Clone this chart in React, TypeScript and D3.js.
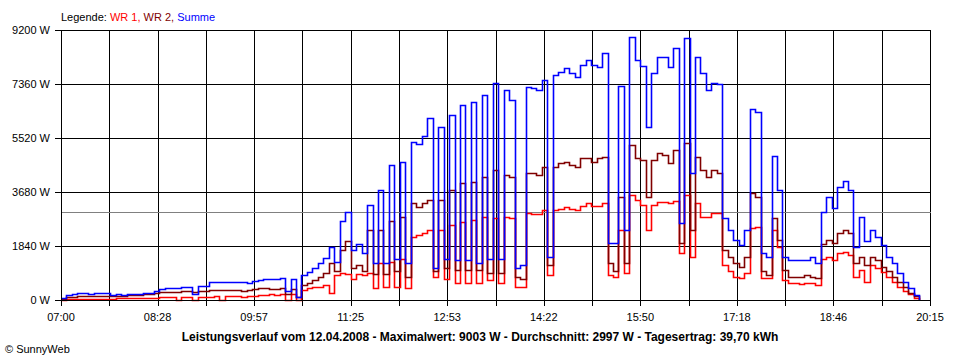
import React from "react";
import * as d3 from "d3";

// time axis: 07:00 .. 20:15, samples every 5 minutes
const START_MIN = 420;
const END_MIN = 1215;
const STEP_MIN = 5;

const wr1 = [
  10, 30, 40, 40, 50, 40, 50, 50, 50, 50, 60, 60, 60, 70, 70, 70, 80, 80, 90, 90,
  90, 0, 100, 100, 0, 110, 110, 110, 120, 0, 120, 120, 120, 110, 120, 150, 170, 180, 190, 180,
  200, 0, 190, 0, 340, 400, 440, 440, 510, 240, 850, 920, 900, 700, 900, 850, 920, 400, 1260, 440,
  1300, 440, 1400, 400, 2150, 2200, 2300, 2385, 785, 2385, 700, 2550, 580, 2660, 580, 2730, 580, 2830, 680, 2800,
  580, 2830, 2800, 440, 450, 2960, 2930, 2930, 3070, 850, 3070, 3100, 3170, 3100, 3070, 3200, 3300, 3200, 3200, 3300,
  850, 785, 2380, 920, 3580, 3400, 3240, 2380, 3240, 3340, 3340, 3300, 3370, 1600, 3580, 1470, 3300, 2830, 2830, 2960,
  2960, 1200, 1000, 785, 750, 920, 2450, 2500, 750, 750, 2380, 1800, 680, 580, 580, 560, 580, 580, 510, 1400,
  1470, 1360, 1600, 1640, 1530, 785, 1020, 600, 1190, 1090, 950, 800, 610, 450, 300, 200, 80, 0,
];

const wr2 = [
  30, 100, 110, 120, 140, 130, 140, 140, 150, 150, 140, 150, 160, 170, 180, 200, 220, 230, 260, 270,
  270, 280, 290, 290, 270, 290, 300, 330, 340, 340, 330, 330, 330, 320, 330, 380, 400, 400, 390, 380,
  400, 200, 380, 100, 520, 580, 680, 785, 920, 1260, 1000, 1700, 2000, 1100, 1200, 1000, 2385, 900, 2385, 900,
  2700, 1000, 2830, 785, 3300, 3170, 3300, 3400, 1000, 3400, 1100, 3750, 1020, 3980, 1020, 4020, 1020, 4190, 920, 4430,
  920, 4260, 4190, 785, 700, 4330, 4330, 4260, 4530, 1200, 4530, 4660, 4700, 4600, 4530, 4840, 4840, 4700, 4840, 4870,
  1260, 1000, 3510, 1260, 5280, 4840, 4770, 3500, 4770, 5000, 4950, 4660, 5110, 1940, 5350, 2385, 4870, 4430, 4190, 4430,
  4330, 1700, 1470, 1260, 1130, 1470, 3640, 3500, 1000, 850, 2790, 2040, 1020, 785, 785, 800, 850, 800, 740, 1900,
  2040, 1940, 2280, 2385, 2280, 1260, 1470, 1200, 1470, 1360, 1130, 1000, 785, 600, 430, 230, 120, 0,
];

const summe = [
  60, 170, 200, 230, 240, 220, 250, 240, 230, 180, 200, 160, 220, 190, 200, 230, 230, 300, 380, 400,
  400, 420, 430, 430, 200, 480, 490, 610, 620, 620, 600, 620, 610, 600, 590, 640, 690, 720, 720, 700,
  750, 300, 700, 100, 850, 965, 1090, 1260, 1430, 1800, 1300, 2700, 3000, 1700, 1900, 1600, 3240, 1260, 3750, 1260,
  4600, 1400, 4700, 1260, 5380, 5300, 5600, 6200, 1100, 5900, 1400, 6300, 1360, 6640, 1360, 6760, 1260, 7000, 1400, 7400,
  1400, 7150, 6810, 1090, 1200, 7260, 7220, 7150, 7500, 1460, 7670, 7770, 7900, 7730, 7600, 8000, 8180, 8000, 7950, 8400,
  1940, 1950, 7300, 2400, 8960, 8180, 7970, 5900, 7730, 8280, 8280, 7940, 8580, 2620, 8930, 4330, 8280, 7730, 7150, 7390,
  7360, 2800, 2400, 2040, 1870, 2380, 6500, 6400, 1600, 1470, 4900, 3750, 1460, 1360, 1360, 1380, 1360, 1470, 1260, 3000,
  3510, 3130, 3850, 4050, 3750, 1800, 2830, 2000, 2380, 2150, 1870, 1470, 1260, 920, 610, 400, 170, 0,
];

const yTicks = [0, 1840, 3680, 5520, 7360, 9200];
const xTickLabels = ["07:00", "08:28", "09:57", "11:25", "12:53", "14:22", "15:50", "17:18", "18:46", "20:15"];
const X_TICK_COUNT = 19;
const AVERAGE = 2997;
const Y_MAX = 9200;

const legendParts = [
  { text: "Legende: ", color: "#000000" },
  { text: "WR 1,", color: "#ff0000" },
  { text: " WR 2,", color: "#800000" },
  { text: " Summe", color: "#0000ff" },
];
const titleText =
  "Leistungsverlauf vom 12.04.2008 - Maximalwert: 9003 W - Durchschnitt: 2997 W - Tagesertrag: 39,70 kWh";
const copyright = "\u00A9 SunnyWeb";

const series = [
  { values: wr1, color: "#ff0000" },
  { values: wr2, color: "#800000" },
  { values: summe, color: "#0000ff" },
];

const FONT = "'Liberation Sans', Arial, sans-serif";

export default function App() {
  const width = 960;
  const height = 360;
  const x = d3.scaleLinear().domain([START_MIN, END_MIN]).range([61, 930]);
  const y = d3.scaleLinear().domain([0, Y_MAX]).range([300, 30]);
  const cx = (v: number) => Math.round(v) + 0.5;

  const tickMins = d3.range(X_TICK_COUNT).map(
    (i) => START_MIN + (i * (END_MIN - START_MIN)) / (X_TICK_COUNT - 1)
  );

  const line = d3
    .line<number>()
    .x((_, i) => Math.round(x(START_MIN + i * STEP_MIN)) + 0.5)
    .y((d) => Math.round(y(d)) + 0.5)
    .curve(d3.curveStepAfter);

  const x0 = cx(x(START_MIN));
  const x1 = cx(x(END_MIN));
  const yBase = cx(y(0));

  return (
    <svg
      width={width}
      height={height}
      style={{ position: "absolute", left: 0, top: 0, background: "#fff" }}
      fontFamily={FONT}
    >
      <rect x={0} y={0} width={width} height={height} fill="#fff" />
      {/* legend */}
      <text x={61} y={21} fontSize={11}>
        {legendParts.map((p, i) => (
          <tspan key={i} fill={p.color}>
            {p.text}
          </tspan>
        ))}
      </text>

      {/* horizontal grid */}
      {yTicks.map((v) => (
        <g key={"y" + v}>
          <line x1={55} x2={x1} y1={cx(y(v))} y2={cx(y(v))} stroke="#000" strokeWidth={1} shapeRendering="crispEdges" />
          <text x={50} y={Math.round(y(v)) + 4} fontSize={11} textAnchor="end" fill="#000">
            {v + " W"}
          </text>
        </g>
      ))}

      {/* vertical grid */}
      {tickMins.map((m, i) => (
        <line
          key={"x" + i}
          x1={cx(x(m))}
          x2={cx(x(m))}
          y1={cx(y(Y_MAX))}
          y2={yBase + 5}
          stroke="#000"
          strokeWidth={1}
          shapeRendering="crispEdges"
        />
      ))}
      {tickMins
        .filter((_, i) => i % 2 === 0)
        .map((m, k) => (
          <text key={"xl" + k} x={x(m)} y={321} fontSize={11} textAnchor="middle" fill="#000">
            {xTickLabels[k]}
          </text>
        ))}

      {/* average line */}
      <line
        x1={x0}
        x2={x1}
        y1={cx(y(AVERAGE))}
        y2={cx(y(AVERAGE))}
        stroke="#808080"
        strokeWidth={1}
        shapeRendering="crispEdges"
      />

      {/* data */}
      {series.map((s, i) => (
        <path
          key={"s" + i}
          d={line(s.values) || ""}
          fill="none"
          stroke={s.color}
          strokeWidth={1.6}
          strokeLinejoin="miter"
        />
      ))}

      {/* axes */}
      <line x1={x0} x2={x0} y1={cx(y(Y_MAX))} y2={yBase + 5} stroke="#000" shapeRendering="crispEdges" />
      <line x1={55} x2={x1} y1={yBase} y2={yBase} stroke="#000" shapeRendering="crispEdges" />

      <text x={480} y={341} fontSize={12} fontWeight="bold" textAnchor="middle" fill="#000">
        {titleText}
      </text>
      <text x={5} y={353} fontSize={11} fill="#000">
        {copyright}
      </text>
    </svg>
  );
}
